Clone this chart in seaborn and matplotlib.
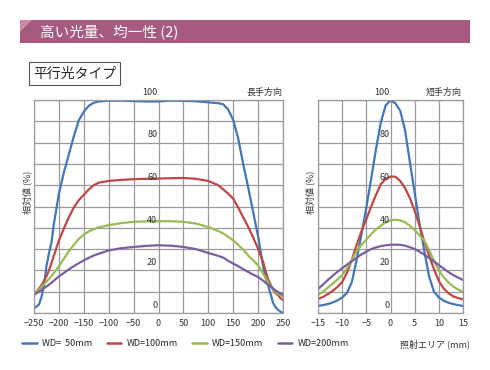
import numpy as np
import pandas as pd
import matplotlib
matplotlib.use("Agg")
import matplotlib.pyplot as plt
import seaborn as sns
from matplotlib.patches import Rectangle, Polygon
from matplotlib.lines import Line2D

# =============================
# Data
# =============================
series_labels = ["WD=  50mm", "WD=100mm", "WD=150mm", "WD=200mm"]
colors = ["#4576B5", "#BC4845", "#98BB55", "#7C5DA0"]

# long direction (長手方向)
long_x = [-250, -245, -240, -235, -230, -225, -220, -215, -210, -200, -190, -180, -170,
          -160, -150, -140, -130, -120, -100, -75, -50, -25, 0, 25, 50, 75, 100,
          120, 130, 140, 150, 160, 170, 180, 190, 200, 210, 215, 220, 225, 230,
          235, 240, 245, 250]
long_wd50 = [2.2, 3, 4, 7.5, 13, 22, 28, 33, 42, 56, 66, 74.5, 83,
             90.5, 94.5, 97.3, 98.7, 99.3, 99.7, 99.7, 99.5, 99.3, 99.3, 99.7, 99.6, 99.4, 98.9,
             98.5, 98, 95.5, 90.6, 82, 70, 59, 47.5, 36, 22, 16.5, 13, 9, 4.8,
             2.8, 1.5, 0.6, 0]
long_wd100 = [8.5, 10, 11.5, 13, 15, 17.2, 20, 23.3, 27, 34, 39.7, 45, 49.5,
              53, 55.5, 58, 60, 61.2, 62, 62.5, 62.8, 63, 63.1, 63.3, 63.4, 63, 62,
              60, 58, 56, 53.7, 49.5, 45, 40.5, 35.5, 30.2, 24, 19.5, 16, 13.5, 11,
              9.5, 8.3, 7, 6]
long_wd150 = [8.8, 9.8, 11, 12.2, 13.5, 14.7, 16, 17.3, 18.8, 22, 25.5, 29, 32,
              34.8, 36.8, 38.3, 39.3, 40.2, 41.2, 42.2, 42.8, 43, 43.1, 43.1, 42.8, 42, 40.4,
              38.5, 37.3, 35.8, 34.1, 32, 29.8, 27, 24.7, 22.4, 18.5, 16.5, 14.5, 12.8, 11.3,
              10, 9, 8.3, 7.7]
long_wd200 = [8.5, 9.3, 10, 10.8, 11.6, 12.4, 13.3, 14.2, 15.2, 17.2, 18.8, 20.5, 22,
              23.4, 24.7, 25.9, 27, 27.8, 29.4, 30.4, 31, 31.5, 31.8, 31.6, 31, 30, 28.2,
              26.8, 26, 24.5, 23.2, 22, 20.6, 19.3, 18, 16.9, 15.2, 14.2, 13.4, 12.5, 11.5,
              10.6, 9.9, 9.2, 8.5]

# short direction (短手方向)
short_x = [-15, -14, -13, -12, -11, -10, -9, -8, -7, -6, -5, -4, -3, -2, -1, 0,
           1, 2, 3, 4, 5, 6, 7, 8, 9, 10, 11, 12, 13, 14, 15]
short_wd50 = [3.3, 3.7, 4.2, 4.9, 5.9, 7.2, 9.5, 14.5, 25, 37, 49.5, 63, 77, 89.5, 97.5, 99.8,
              98.5, 95, 86, 71, 56.5, 42, 29, 17, 10, 7.3, 5.8, 4.8, 4.2, 3.7, 3.3]
short_wd100 = [6.6, 7.5, 8.8, 10.3, 12.2, 14.5, 19, 25, 32, 38.5, 44, 50, 55.5, 60.5, 63, 64,
               64, 62, 58.7, 54, 48, 41, 33.5, 27, 20.5, 15, 11.5, 9.3, 7.8, 7, 6.4]
short_wd150 = [8.5, 10, 11.8, 13.7, 15.7, 17.8, 21, 25, 29, 32, 34.5, 37, 39.3, 41, 42.6, 43.5,
               43.8, 43.5, 42.6, 41, 39, 36.5, 34, 29.5, 24.5, 20, 16.8, 14.3, 12.4, 11, 10]
short_wd200 = [11.2, 13.3, 15.4, 17.4, 19.3, 21, 22.7, 24.3, 26, 27.5, 28.8, 30, 30.8, 31.4, 31.8, 32,
               32.1, 32, 31.6, 30.9, 30, 28.8, 27.4, 25.8, 24.2, 22.5, 20.8, 19.2, 17.8, 16.6, 15.5]

y_ticks = [0, 20, 40, 60, 80, 100]


def to_long(x, cols):
    frames = []
    for lab, vals in zip(series_labels, cols):
        frames.append(pd.DataFrame({"x": x, "y": vals, "WD": lab}))
    return pd.concat(frames, ignore_index=True)


df_long = to_long(long_x, [long_wd50, long_wd100, long_wd150, long_wd200])
df_short = to_long(short_x, [short_wd50, short_wd100, short_wd150, short_wd200])

# =============================
# Figure
# =============================
sns.set_style("white")
plt.rcParams["font.family"] = ["Noto Sans CJK JP", "DejaVu Sans"]

fig = plt.figure(figsize=(4.9, 3.7), dpi=100)
W, H = 490, 370


def fx(px):
    return px / W


def fy(py):
    return 1 - py / H


# title bar
fig.patches.append(Rectangle((fx(20), fy(43)), fx(450), 23 / H, transform=fig.transFigure,
                             facecolor="#A65B7E", edgecolor="none"))
fig.patches.append(Polygon([(fx(20), fy(20)), (fx(32), fy(20)), (fx(20), fy(32))],
                           closed=True, transform=fig.transFigure,
                           facecolor="#C98AA6", edgecolor="none"))
fig.text(fx(40), fy(31.5), "高い光量、均一性 (2)", color="white", fontsize=10.5,
         va="center", ha="left")

# type box
fig.text(fx(33), fy(73.5), "平行光タイプ", fontsize=10, va="center", ha="left",
         bbox=dict(boxstyle="square,pad=0.3", facecolor="white", edgecolor="#555555", linewidth=0.8))

ax1 = fig.add_axes([fx(34), fy(313), fx(249), 213 / H])
ax2 = fig.add_axes([fx(318), fy(313), fx(145), 213 / H])

grid_c = "#9A9A9A"
for ax, df, xlim, xstep in [(ax1, df_long, 250, 50), (ax2, df_short, 15, 5)]:
    sns.lineplot(data=df, x="x", y="y", hue="WD", palette=colors, ax=ax,
                 linewidth=1.6, legend=False, sort=True)
    ax.set_xlim(-xlim, xlim)
    ax.set_ylim(0, 100)
    ax.set_xticks(np.arange(-xlim, xlim + 1, xstep))
    ax.set_yticks(np.arange(0, 101, 10))
    ax.set_yticklabels([])
    ax.grid(True, color=grid_c, linewidth=0.9)
    ax.set_axisbelow(True)
    for s in ax.spines.values():
        s.set_color(grid_c)
        s.set_linewidth(0.9)
    ax.tick_params(axis="x", labelsize=6.5, length=0, pad=4, colors="#333333")
    ax.tick_params(axis="y", length=0)
    ax.set_xlabel("")
    ax.set_ylabel("")
    for v in y_ticks:
        ax.text(-xlim * 0.01, v + 1.5, str(v), fontsize=6.5, ha="right", va="bottom",
                color="#333333")

fig.text(fx(282), fy(92), "長手方向", fontsize=6.5, ha="right", va="center", color="#333333")
fig.text(fx(462), fy(92), "短手方向", fontsize=6.5, ha="right", va="center", color="#333333")
fig.text(fx(27), fy(192), "相対値 (%)", fontsize=6.5, rotation=90, ha="center", va="center",
         color="#333333")
fig.text(fx(310), fy(192), "相対値 (%)", fontsize=6.5, rotation=90, ha="center", va="center",
         color="#333333")

# legend
handles = [Line2D([0], [0], color=c, linewidth=1.8) for c in colors]
fig.legend(handles, series_labels, loc="center left", bbox_to_anchor=(fx(14), fy(344)),
           ncol=4, frameon=False, fontsize=6.5, handlelength=1.6, handletextpad=0.6,
           columnspacing=1.6)
fig.text(fx(470), fy(344), "照射エリア (mm)", fontsize=6.5, ha="right", va="center",
         color="#333333")

fig.savefig("out.png", dpi=100)
